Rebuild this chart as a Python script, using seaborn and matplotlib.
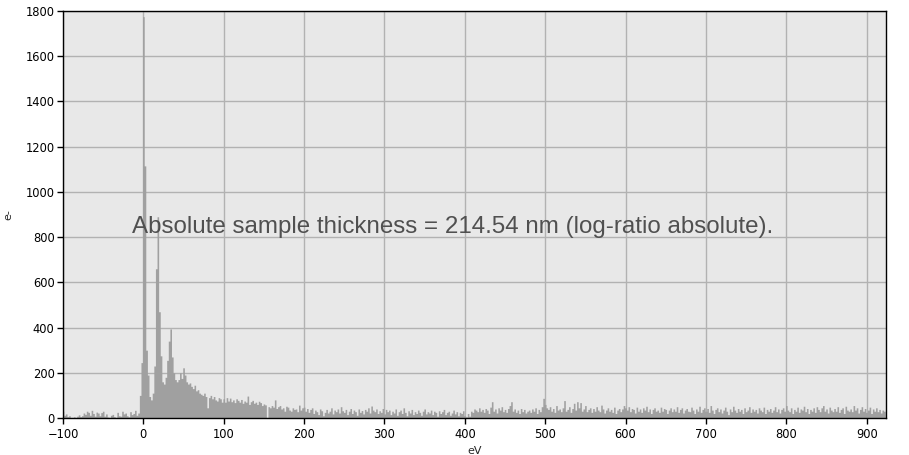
import numpy as np
import pandas as pd
import matplotlib
matplotlib.use("Agg")
import matplotlib.pyplot as plt
import seaborn as sns

# spectrum channels, 2 eV wide, starting at -100 eV
e_start = -100
e_step = 2

counts_pre = [30, 12, 18, 6, 10, 0, 2, 5, 0, 8, 14, 6, 10, 22, 16, 30, 25, 12, 34, 20,
              8, 26, 22, 10, 24, 30, 8, 18, 4, 0, 12, 16, 6, 2, 25, 10, 8, 30, 18, 22,
              10, 5, 28, 15, 20, 34, 12, 22, 100, 245]

counts_peaks = [1775, 1115, 300, 190, 95, 80, 110, 230, 660, 890,
                470, 275, 160, 150, 180, 255, 340, 394, 270, 200,
                170, 160, 170, 200, 175, 222, 190, 160, 150, 155,
                140, 130, 145, 120, 125, 110, 105, 100, 110, 95,
                45, 90, 100, 85, 95, 80, 75, 90, 85, 70]

counts_mid = [85, 70, 90, 75, 88, 72, 80, 68, 85, 78,
              70, 82, 65, 75, 70, 97, 60, 72, 78, 65,
              70, 60, 74, 68, 55, 62, 58, 0, 50, 45,
              55, 48, 80, 42, 50, 55, 40, 45, 30, 52,
              48, 35, 30, 45, 38, 40, 28, 57, 35, 45]

counts_low = [48, 30, 42, 25, 38, 45, 20, 35, 28, 15,
              40, 32, 10, 25, 38, 22, 30, 45, 18, 35,
              28, 40, 22, 50, 32, 25, 38, 15, 30, 42,
              20, 35, 28, 12, 40, 25, 33, 18, 38, 30,
              45, 22, 53, 35, 28, 40, 20, 32, 25, 42,
              18, 38, 28, 35, 15, 30, 22, 40, 12, 28,
              35, 20, 45, 25, 10, 32, 22, 38, 15, 28,
              20, 35, 25, 12, 30, 40, 18, 28, 22, 35,
              15, 30, 25, 8, 32, 20, 28, 38, 15, 25,
              30, 12, 22, 35, 18, 28, 10, 25, 20, 32]

counts_tail = [10, 5, 20, 8, 30, 25, 40, 35, 28, 45,
               30, 38, 25, 42, 35, 20, 48, 72, 30, 40,
               22, 45, 35, 50, 28, 38, 25, 42, 55, 72,
               30, 40, 25, 35, 20, 42, 28, 38, 22, 30,
               35, 25, 40, 30, 45, 20, 38, 28, 50, 87,
               60, 45, 38, 50, 30, 42, 25, 55, 35, 40,
               28, 45, 77, 30, 38, 50, 25, 42, 65, 35,
               72, 45, 68, 30, 40, 55, 28, 38, 45, 25,
               42, 30, 50, 35, 28, 57, 40, 22, 35, 45,
               30, 38, 25, 48, 20, 35, 42, 28, 40, 55,
               45, 35, 50, 28, 42, 38, 22, 48, 30, 40,
               25, 45, 35, 52, 28, 40, 20, 38, 45, 30,
               35, 25, 48, 30, 42, 38, 20, 35, 45, 28,
               40, 30, 50, 25, 38, 45, 22, 35, 42, 30,
               28, 48, 35, 20, 40, 30, 52, 25, 38, 45,
               30, 42, 25, 55, 35, 20, 38, 45, 28, 40,
               22, 35, 48, 30, 15, 40, 28, 52, 35, 25,
               42, 30, 38, 20, 45, 28, 35, 50, 25, 40,
               30, 38, 22, 45, 35, 28, 48, 20, 38, 30,
               42, 25, 35, 50, 28, 40, 22, 38, 45, 30,
               55, 35, 28, 45, 20, 38, 30, 48, 25, 40,
               35, 52, 28, 42, 20, 38, 30, 45, 25, 50,
               38, 28, 45, 55, 30, 40, 22, 48, 35, 28,
               42, 30, 50, 25, 38, 45, 20, 52, 35, 30,
               40, 28, 55, 35, 45, 22, 38, 50, 30, 42,
               25, 35, 48, 20, 40, 30, 45, 28, 38, 22,
               35, 30]

x_ticks = list(range(-100, 901, 100))
y_ticks = list(range(0, 1801, 200))
note = "Absolute sample thickness = 214.54 nm (log-ratio absolute)."

counts = counts_pre + counts_peaks + counts_mid + counts_low + counts_tail
energy = e_start + e_step * np.arange(len(counts))
df = pd.DataFrame({"eV": energy, "counts": counts})

sns.set_style("whitegrid")
plt.rcParams["font.family"] = ["DejaVu Sans"]

fig = plt.figure(figsize=(9.09, 4.55), dpi=100)
ax = fig.add_axes([63 / 909, 37 / 455, 823 / 909, 407 / 455])
ax.set_facecolor("#e8e8e8")

sns.histplot(data=df, x="eV", weights="counts", binwidth=e_step,
             binrange=(e_start - e_step / 2, energy[-1] + e_step / 2),
             element="step", fill=True, color="#a0a0a0", alpha=1,
             linewidth=0, ax=ax)

ax.set_xlim(-100, 924)
ax.set_ylim(0, 1800)
ax.set_xticks(x_ticks)
ax.set_yticks(y_ticks)
ax.set_axisbelow(True)
ax.grid(True, color="#b2b2b2", linewidth=1)
for s in ax.spines.values():
    s.set_color("black")
    s.set_linewidth(1)
ax.tick_params(axis="both", direction="out", length=4, width=1, color="black",
               labelsize=8.3, labelcolor="black", pad=2, bottom=True, left=True)
ax.tick_params(axis="x", pad=3)
ax.set_xlabel("eV", fontsize=8, labelpad=4)
ax.set_ylabel("e-", fontsize=8, labelpad=9)

ax.text(0.084, 0.469, note, transform=ax.transAxes, ha="left", va="center",
        fontsize=17.4, color="#505050", family=["Liberation Sans", "DejaVu Sans"])

fig.savefig("out.png", dpi=100)
